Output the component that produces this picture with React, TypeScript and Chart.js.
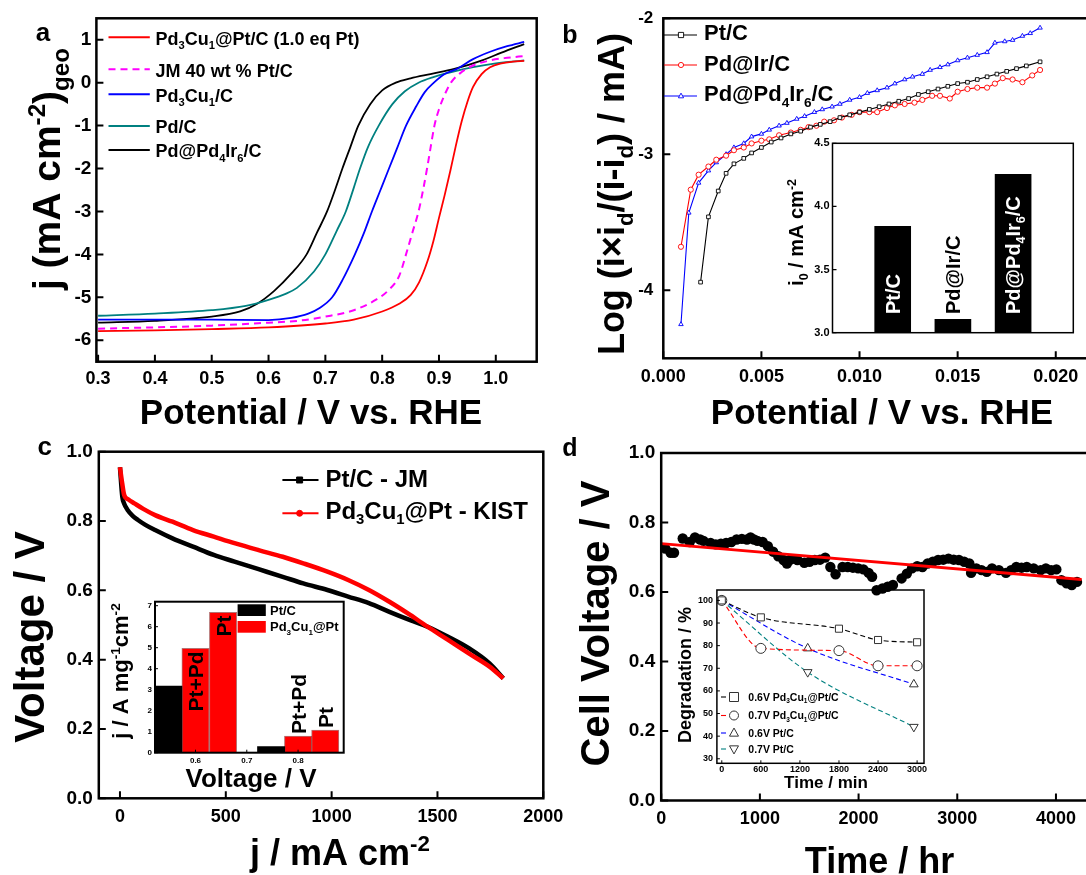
import React, { useEffect, useRef } from 'react';
import { Chart, registerables } from 'chart.js';

Chart.register(...registerables);

const FONT = "'Liberation Sans', Arial, Helvetica, sans-serif";

// ---------------- Panel a : ORR polarization ----------------
const A_X_TICKS = [0.3, 0.4, 0.5, 0.6, 0.7, 0.8, 0.9, 1.0];
const A_Y_TICKS = [-6, -5, -4, -3, -2, -1, 0, 1];
const A_RED_X = [0.30, 0.40, 0.50, 0.60, 0.70, 0.75, 0.80, 0.83, 0.85, 0.865, 0.88, 0.89, 0.90, 0.91, 0.92, 0.93, 0.94, 0.95, 0.96, 0.975, 0.99, 1.01, 1.03, 1.05];
const A_RED_Y = [-5.79, -5.77, -5.74, -5.70, -5.61, -5.52, -5.33, -5.15, -4.95, -4.65, -4.15, -3.70, -3.15, -2.62, -2.05, -1.45, -0.90, -0.45, -0.10, 0.20, 0.36, 0.45, 0.49, 0.51];
const A_MAG_X = [0.30, 0.40, 0.50, 0.60, 0.65, 0.70, 0.75, 0.79, 0.81, 0.83, 0.842, 0.853, 0.864, 0.872, 0.879, 0.886, 0.892, 0.90, 0.91, 0.921, 0.94, 0.96, 0.99, 1.02, 1.05];
const A_MAG_Y = [-5.73, -5.70, -5.66, -5.59, -5.55, -5.45, -5.30, -5.05, -4.85, -4.50, -4.00, -3.50, -3.00, -2.50, -2.00, -1.45, -1.00, -0.62, -0.28, 0.00, 0.25, 0.40, 0.52, 0.58, 0.62];
const A_BLUE_X = [0.30, 0.40, 0.50, 0.60, 0.64, 0.67, 0.69, 0.712, 0.73, 0.752, 0.768, 0.782, 0.797, 0.812, 0.827, 0.842, 0.86, 0.875, 0.891, 0.91, 0.933, 0.96, 0.99, 1.02, 1.05];
const A_BLUE_Y = [-5.52, -5.52, -5.52, -5.53, -5.48, -5.38, -5.25, -5.00, -4.60, -4.00, -3.50, -3.00, -2.50, -2.00, -1.50, -1.00, -0.55, -0.22, 0.00, 0.20, 0.33, 0.55, 0.72, 0.85, 0.95];
const A_TEAL_X = [0.30, 0.40, 0.50, 0.56, 0.60, 0.63, 0.65, 0.68, 0.70, 0.72, 0.736, 0.75, 0.761, 0.775, 0.794, 0.818, 0.84, 0.864, 0.89, 0.92, 0.96, 1.00, 1.05];
const A_TEAL_Y = [-5.43, -5.38, -5.30, -5.20, -5.06, -4.92, -4.78, -4.40, -4.00, -3.45, -3.00, -2.45, -2.00, -1.50, -1.00, -0.50, -0.20, 0.00, 0.13, 0.24, 0.36, 0.45, 0.52];
const A_BLK_X = [0.30, 0.40, 0.50, 0.55, 0.58, 0.61, 0.64, 0.667, 0.685, 0.703, 0.717, 0.73, 0.744, 0.758, 0.779, 0.80, 0.824, 0.85, 0.885, 0.927, 0.976, 1.01, 1.05];
const A_BLK_Y = [-5.59, -5.55, -5.45, -5.33, -5.15, -4.85, -4.45, -4.00, -3.50, -3.00, -2.50, -2.00, -1.50, -1.00, -0.50, -0.18, 0.00, 0.10, 0.20, 0.32, 0.52, 0.70, 0.90];
const A_LABELS = ['Pd_{3}Cu_{1}@Pt/C (1.0 eq Pt)', 'JM 40 wt % Pt/C', 'Pd_{3}Cu_{1}/C', 'Pd/C', 'Pd@Pd_{4}Ir_{6}/C'];

// ---------------- Panel b : Tafel-type plot ----------------
const B_X_TICKS = [0.0, 0.005, 0.01, 0.015, 0.02];
const B_Y_TICKS = [-4, -3, -2];
const B_PT_X = [0.0019, 0.0023, 0.0028, 0.0032, 0.0036, 0.0041, 0.0045, 0.0050, 0.0055, 0.0060, 0.0065, 0.0070, 0.0075, 0.0080, 0.0085, 0.0090, 0.0095, 0.0100, 0.0105, 0.0110, 0.0115, 0.0120, 0.0125, 0.0130, 0.0135, 0.0140, 0.0145, 0.0150, 0.0155, 0.0160, 0.0165, 0.0170, 0.0175, 0.0180, 0.0185, 0.0192];
const B_PT_Y = [-3.94, -3.46, -3.27, -3.14, -3.07, -3.03, -2.99, -2.95, -2.91, -2.88, -2.85, -2.83, -2.80, -2.78, -2.76, -2.73, -2.71, -2.69, -2.67, -2.65, -2.63, -2.61, -2.59, -2.56, -2.54, -2.52, -2.50, -2.48, -2.47, -2.45, -2.43, -2.41, -2.39, -2.37, -2.35, -2.32];
const B_IR_X = [0.0009, 0.0014, 0.0018, 0.0023, 0.0027, 0.0032, 0.0036, 0.0041, 0.0045, 0.0050, 0.0054, 0.0059, 0.0065, 0.0070, 0.0074, 0.0078, 0.0082, 0.0087, 0.0091, 0.0096, 0.0100, 0.0105, 0.0109, 0.0114, 0.0118, 0.0123, 0.0128, 0.0132, 0.0137, 0.0141, 0.0146, 0.0150, 0.0155, 0.0160, 0.0165, 0.0169, 0.0173, 0.0178, 0.0183, 0.0188, 0.0192];
const B_IR_Y = [-3.68, -3.26, -3.15, -3.09, -3.04, -3.01, -2.97, -2.95, -2.92, -2.90, -2.89, -2.86, -2.84, -2.82, -2.80, -2.79, -2.76, -2.75, -2.73, -2.71, -2.69, -2.69, -2.69, -2.66, -2.64, -2.63, -2.62, -2.60, -2.57, -2.57, -2.59, -2.54, -2.52, -2.51, -2.51, -2.48, -2.44, -2.45, -2.47, -2.42, -2.38];
const B_PDIR_X = [0.0009, 0.0013, 0.0018, 0.0023, 0.0027, 0.0032, 0.0036, 0.0041, 0.0045, 0.0050, 0.0054, 0.0059, 0.0063, 0.0068, 0.0072, 0.0077, 0.0081, 0.0086, 0.0090, 0.0095, 0.0100, 0.0104, 0.0109, 0.0114, 0.0118, 0.0123, 0.0127, 0.0132, 0.0136, 0.0141, 0.0145, 0.0150, 0.0155, 0.0160, 0.0165, 0.0169, 0.0174, 0.0178, 0.0183, 0.0187, 0.0192];
const B_PDIR_Y = [-4.25, -3.43, -3.21, -3.12, -3.06, -3.00, -2.95, -2.92, -2.87, -2.85, -2.82, -2.79, -2.77, -2.74, -2.72, -2.69, -2.67, -2.65, -2.63, -2.60, -2.58, -2.55, -2.53, -2.51, -2.48, -2.45, -2.43, -2.41, -2.38, -2.36, -2.34, -2.31, -2.29, -2.27, -2.25, -2.18, -2.17, -2.16, -2.13, -2.11, -2.07];
const B_LABELS = ['Pt/C', 'Pd@Ir/C', 'Pd@Pd_{4}Ir_{6}/C'];
// inset of b
const BI_CATS = ['Pt/C', 'Pd@Ir/C', 'Pd@Pd_{4}Ir_{6}/C'];
const BI_POS = [1, 2, 3];
const BI_VALUES = [3.843, 3.106, 4.254];
const BI_Y_TICKS = [3.0, 3.5, 4.0, 4.5];

// ---------------- Panel c : fuel cell polarization ----------------
const C_X_TICKS = [0, 500, 1000, 1500, 2000];
const C_Y_TICKS = [0, 0.2, 0.4, 0.6, 0.8, 1.0];
const C_PT_X = [0, 11, 20, 36, 60, 85, 120, 166, 248, 345, 443, 541, 655, 769, 866, 980, 1078, 1176, 1273, 1371, 1453, 1550, 1648, 1746, 1811];
const C_PT_Y = [0.955, 0.87, 0.85, 0.832, 0.815, 0.803, 0.789, 0.774, 0.75, 0.726, 0.702, 0.683, 0.661, 0.639, 0.620, 0.601, 0.582, 0.563, 0.538, 0.514, 0.495, 0.466, 0.433, 0.389, 0.346];
const C_KIST_X = [0, 11, 20, 40, 68, 110, 166, 248, 345, 443, 541, 655, 769, 866, 980, 1078, 1176, 1273, 1371, 1453, 1550, 1648, 1746, 1811];
const C_KIST_Y = [0.955, 0.907, 0.875, 0.862, 0.851, 0.835, 0.817, 0.798, 0.774, 0.755, 0.736, 0.716, 0.697, 0.678, 0.654, 0.630, 0.601, 0.567, 0.529, 0.495, 0.457, 0.418, 0.380, 0.346];
const C_LABELS = ['Pt/C - JM', 'Pd_{3}Cu_{1}@Pt - KIST'];
// inset of c
const CI_X_TICKS = [0.6, 0.7, 0.8];
const CI_Y_TICKS = [0, 1, 2, 3, 4, 5, 6, 7];
const CI_PT_X = [0.547, 0.7475];
const CI_PT_Y = [3.17, 0.29];
const CI_PDCU_X = [0.6, 0.6537, 0.8, 0.853];
const CI_PDCU_Y = [4.97, 6.68, 0.79, 1.08];
const CI_PDCU_TAGS = ['Pt+Pd', 'Pt', 'Pt+Pd', 'Pt'];
const CI_LABELS = ['Pt/C', 'Pd_{3}Cu_{1}@Pt'];

// ---------------- Panel d : durability ----------------
const D_X_TICKS = [0, 1000, 2000, 3000, 4000];
const D_Y_TICKS = [0, 0.2, 0.4, 0.6, 0.8, 1.0];
const D_T = [42, 95, 130, 218, 289, 342, 394, 429, 500, 553, 605, 658, 711, 764, 817, 869, 905, 940, 975, 1028, 1081, 1134, 1186, 1239, 1274, 1310, 1380, 1450, 1503, 1556, 1609, 1662, 1714, 1767, 1837, 1890, 1943, 1996, 2049, 2102, 2137, 2182, 2242, 2295, 2348, 2436, 2489, 2541, 2594, 2647, 2700, 2753, 2806, 2858, 2911, 2964, 3017, 3070, 3122, 3140, 3193, 3246, 3299, 3352, 3422, 3493, 3546, 3598, 3651, 3704, 3774, 3845, 3898, 3951, 4004, 4055, 4108, 4160, 4213];
const D_V = [0.725, 0.713, 0.713, 0.754, 0.744, 0.757, 0.751, 0.747, 0.741, 0.737, 0.739, 0.741, 0.744, 0.751, 0.753, 0.751, 0.757, 0.751, 0.747, 0.744, 0.732, 0.716, 0.703, 0.692, 0.682, 0.693, 0.692, 0.684, 0.687, 0.692, 0.693, 0.699, 0.672, 0.651, 0.672, 0.672, 0.670, 0.668, 0.665, 0.655, 0.644, 0.605, 0.610, 0.615, 0.620, 0.639, 0.653, 0.668, 0.674, 0.672, 0.682, 0.687, 0.692, 0.693, 0.696, 0.693, 0.692, 0.687, 0.682, 0.655, 0.668, 0.663, 0.658, 0.668, 0.663, 0.655, 0.663, 0.672, 0.670, 0.672, 0.668, 0.663, 0.668, 0.663, 0.665, 0.634, 0.625, 0.620, 0.629];
const D_FIT_T = [0, 4260];
const D_FIT_V = [0.739, 0.636];
// inset of d
const DI_X_TICKS = [0, 600, 1200, 1800, 2400, 3000];
const DI_Y_TICKS = [30, 40, 50, 60, 70, 80, 90, 100];
const DI_T1 = [0, 600, 1800, 2400, 3000];
const DI_PDCU_06 = [100, 92.5, 87.5, 82.5, 81.5];
const DI_PDCU_07 = [100, 78.8, 77.8, 71.1, 71.1];
const DI_T2 = [0, 1320, 2950];
const DI_PT_06 = [100, 78.8, 62.9];
const DI_PT_07 = [100, 68.3, 44.1];
const DI_LABELS = ['0.6V Pd_{3}Cu_{1}@Pt/C', '0.7V Pd_{3}Cu_{1}@Pt/C', '0.6V Pt/C', '0.7V Pt/C'];

// ---------------- helpers ----------------
const pts = (xs: number[], ys: number[]) => xs.map((x, i) => ({ x, y: ys[i] }));

type Seg = { t: string; m: number };
function parseRich(s: string): Seg[] {
  const segs: Seg[] = [];
  let buf = '';
  let i = 0;
  while (i < s.length) {
    const c = s[i];
    if ((c === '_' || c === '^') && s[i + 1] === '{') {
      if (buf) { segs.push({ t: buf, m: 0 }); buf = ''; }
      const end = s.indexOf('}', i + 2);
      segs.push({ t: s.slice(i + 2, end), m: c === '^' ? 1 : -1 });
      i = end + 1;
    } else { buf += c; i++; }
  }
  if (buf) segs.push({ t: buf, m: 0 });
  return segs;
}

function drawRich(ctx: CanvasRenderingContext2D, text: string, x: number, y: number, size: number,
  align: 'left' | 'center' | 'right' = 'left', rot = 0, color = '#000', weight = 'bold') {
  const segs = parseRich(text);
  const small = size * 0.62;
  ctx.save();
  ctx.translate(x, y);
  if (rot) ctx.rotate(rot);
  ctx.fillStyle = color;
  ctx.textAlign = 'left';
  ctx.textBaseline = 'alphabetic';
  const ws = segs.map((sg) => { ctx.font = `${weight} ${sg.m ? small : size}px ${FONT}`; return ctx.measureText(sg.t).width; });
  const total = ws.reduce((a, b) => a + b, 0);
  let cx = align === 'center' ? -total / 2 : align === 'right' ? -total : 0;
  const base = size * 0.358;
  segs.forEach((sg, k) => {
    ctx.font = `${weight} ${sg.m ? small : size}px ${FONT}`;
    const dy = sg.m > 0 ? -size * 0.38 : sg.m < 0 ? size * 0.24 : 0;
    ctx.fillText(sg.t, cx, base + dy);
    cx += ws[k];
  });
  ctx.restore();
}

function drawMarker(ctx: CanvasRenderingContext2D, style: string, x: number, y: number, r: number, stroke: string, fill: string | null, lw = 1) {
  ctx.save();
  ctx.beginPath();
  if (style === 'rect') ctx.rect(x - r, y - r, 2 * r, 2 * r);
  else if (style === 'circle') ctx.arc(x, y, r, 0, Math.PI * 2);
  else if (style === 'triangle') { ctx.moveTo(x, y - r * 1.1); ctx.lineTo(x + r, y + r * 0.7); ctx.lineTo(x - r, y + r * 0.7); ctx.closePath(); }
  else if (style === 'triangleDown') { ctx.moveTo(x, y + r * 1.1); ctx.lineTo(x + r, y - r * 0.7); ctx.lineTo(x - r, y - r * 0.7); ctx.closePath(); }
  if (fill) { ctx.fillStyle = fill; ctx.fill(); }
  ctx.setLineDash([]);
  ctx.strokeStyle = stroke; ctx.lineWidth = lw; ctx.stroke();
  ctx.restore();
}

function frame(chart: any, xt: number[], yt: number[], len: number, lw: number, tlw: number) {
  const { ctx, chartArea: a } = chart;
  const sx = chart.scales.x;
  const sy = chart.scales.y;
  ctx.save();
  ctx.strokeStyle = '#000';
  ctx.setLineDash([]);
  ctx.lineWidth = tlw;
  ctx.beginPath();
  xt.forEach((v) => { const p = sx.getPixelForValue(v); ctx.moveTo(p, a.bottom); ctx.lineTo(p, a.bottom - len); });
  yt.forEach((v) => { const p = sy.getPixelForValue(v); ctx.moveTo(a.left, p); ctx.lineTo(a.left + len, p); });
  ctx.stroke();
  ctx.lineWidth = lw;
  ctx.strokeRect(a.left, a.top, a.right - a.left, a.bottom - a.top);
  ctx.restore();
}

type Box = { left: number; top: number; w: number; h: number; l: number; t: number; r: number; b: number };

function axis(min: number, max: number, ticks: number[], fmt: (v: number) => string, size: number, pad: number, fit: number, horiz: boolean, show = true) {
  return {
    type: 'linear', min, max,
    grid: { display: false, drawTicks: false },
    border: { display: false },
    ticks: {
      display: show, autoSkip: false, maxRotation: 0, minRotation: 0, padding: pad, color: '#000',
      font: { family: FONT, size, weight: 'bold' },
      callback: (v: any) => fmt(Number(v)),
    },
    afterBuildTicks: (s: any) => { s.ticks = ticks.map((v) => ({ value: v })); },
    afterFit: (s: any) => {
      if (horiz) s.height = fit; else s.width = fit;
      s.paddingTop = 0; s.paddingBottom = 0; s.paddingLeft = 0; s.paddingRight = 0;
    },
  };
}

function baseOptions(bx: Box, xAxis: any, yAxis: any) {
  return {
    responsive: false,
    animation: false,
    events: [],
    layout: { padding: { left: 0, top: bx.t - bx.top, right: bx.left + bx.w - bx.r, bottom: 0 } },
    plugins: { legend: { display: false }, tooltip: { enabled: false } },
    scales: { x: xAxis, y: yAxis },
  };
}

// ---------------- geometry (page px) ----------------
const BOX_A: Box = { left: 0, top: 0, w: 560, h: 437, l: 96.4, t: 18.3, r: 536.7, b: 361.7 };
const BOX_B: Box = { left: 560, top: 0, w: 540, h: 437, l: 663.3, t: 18.3, r: 1095, b: 358.3 };
const BOX_C: Box = { left: 0, top: 437, w: 570, h: 438, l: 98.8, t: 451.7, r: 543.3, b: 798.3 };
const BOX_D: Box = { left: 555, top: 437, w: 545, h: 438, l: 661.2, t: 453, r: 1090.5, b: 800.5 };
const BOX_BI: Box = { left: 770, top: 130, w: 315, h: 215, l: 832.5, t: 143.3, r: 1073.3, b: 332.7 };
const BOX_CI: Box = { left: 100, top: 585, w: 260, h: 212, l: 155, t: 601.7, r: 343.7, b: 752.7 };
const BOX_DI: Box = { left: 668, top: 582, w: 265, h: 212, l: 716.9, t: 590, r: 924, b: 763.3 };

const xFit = (bx: Box) => bx.top + bx.h - bx.b;
const yFit = (bx: Box) => bx.l - bx.left;
const ROT = -Math.PI / 2;

// ---------------- configs ----------------
function cfgA(): any {
  const bx = BOX_A;
  const series = [
    { xs: A_RED_X, ys: A_RED_Y, color: '#ff0000', dash: [] as number[] },
    { xs: A_MAG_X, ys: A_MAG_Y, color: '#ff00ff', dash: [7, 5] },
    { xs: A_BLUE_X, ys: A_BLUE_Y, color: '#0000ff', dash: [] },
    { xs: A_TEAL_X, ys: A_TEAL_Y, color: '#008080', dash: [] },
    { xs: A_BLK_X, ys: A_BLK_Y, color: '#000000', dash: [] },
  ];
  const legY = [37.3, 69.3, 94.3, 126, 150];
  return {
    type: 'scatter',
    data: {
      datasets: series.map((s) => ({
        data: pts(s.xs, s.ys), showLine: true, borderColor: s.color, backgroundColor: s.color,
        borderWidth: s.dash.length ? 2 : 1.8, borderDash: s.dash, pointRadius: 0, cubicInterpolationMode: 'monotone',
      })),
    },
    options: baseOptions(bx,
      axis(0.297, 1.072, A_X_TICKS, (v) => v.toFixed(1), 18, 7, xFit(bx), true),
      axis(-6.5, 1.5, A_Y_TICKS, (v) => String(v), 19, 5, yFit(bx), false)),
    plugins: [{
      id: 'decoA',
      afterDraw(chart: any) {
        const ctx = chart.ctx;
        frame(chart, A_X_TICKS, A_Y_TICKS, 7, 2.5, 2);
        series.forEach((s, i) => {
          ctx.save();
          ctx.strokeStyle = s.color; ctx.lineWidth = 2; ctx.setLineDash(s.dash);
          ctx.beginPath(); ctx.moveTo(108.5, legY[i]); ctx.lineTo(149.8, legY[i]); ctx.stroke();
          ctx.restore();
          drawRich(ctx, A_LABELS[i], 155.6, legY[i] + 1, 18);
        });
        drawRich(ctx, 'a', 43, 32, 26, 'center');
        drawRich(ctx, 'Potential / V vs. RHE', 311 - bx.left, 411 - bx.top, 35, 'center');
        drawRich(ctx, 'j (mA cm^{-2})_{geo}', 45.6 - bx.left, 169 - bx.top, 39, 'center', ROT);
      },
    }],
  };
}

function cfgB(): any {
  const bx = BOX_B;
  const series = [
    { xs: B_PT_X, ys: B_PT_Y, color: '#000000', style: 'rect' },
    { xs: B_IR_X, ys: B_IR_Y, color: '#ff0000', style: 'circle' },
    { xs: B_PDIR_X, ys: B_PDIR_Y, color: '#0000ff', style: 'triangle' },
  ];
  const lineY = [35, 65, 96];
  const textY = [32.5, 63, 93.5];
  return {
    type: 'scatter',
    data: {
      datasets: series.map((s) => ({
        data: pts(s.xs, s.ys), showLine: true, borderColor: s.color, borderWidth: 1.1,
        pointStyle: s.style, pointRadius: 2.6, pointBorderWidth: 0.9, pointBorderColor: s.color, pointBackgroundColor: '#ffffff',
      })),
    },
    options: baseOptions(bx,
      axis(0, 0.022, B_X_TICKS, (v) => v.toFixed(3), 18, 8, xFit(bx), true),
      axis(-4.5, -2, B_Y_TICKS, (v) => String(v), 17, 10, yFit(bx), false)),
    plugins: [{
      id: 'decoB',
      afterDraw(chart: any) {
        const ctx = chart.ctx;
        frame(chart, B_X_TICKS, B_Y_TICKS, 7, 2.5, 2);
        series.forEach((s, i) => {
          ctx.save();
          ctx.strokeStyle = s.color; ctx.lineWidth = 1.1;
          ctx.beginPath(); ctx.moveTo(104, lineY[i]); ctx.lineTo(137, lineY[i]); ctx.stroke();
          ctx.restore();
          drawMarker(ctx, s.style, 121, lineY[i], 2.6, s.color, '#ffffff', 0.9);
          drawRich(ctx, B_LABELS[i], 144, textY[i], 22);
        });
        drawRich(ctx, 'b', 570 - bx.left, 34 - bx.top, 25, 'center');
        drawRich(ctx, 'Potential / V vs. RHE', 882 - bx.left, 411 - bx.top, 35, 'center');
        drawRich(ctx, 'Log (i\u00d7i_{d}/(i-i_{d}) / mA)', 611 - bx.left, 194 - bx.top, 36, 'center', ROT);
      },
    }],
  };
}

function cfgBI(): any {
  const bx = BOX_BI;
  return {
    type: 'bar',
    data: {
      datasets: [{
        data: pts(BI_POS, BI_VALUES), backgroundColor: '#000000', barThickness: 36, borderWidth: 0,
      }],
    },
    options: baseOptions(bx,
      { ...axis(0, 4, [], (v) => '', 11, 0, xFit(bx), true, false), offset: false },
      axis(3, 4.5, BI_Y_TICKS, (v) => v.toFixed(1), 11, 3, yFit(bx), false)),
    plugins: [{
      id: 'decoBI',
      afterDraw(chart: any) {
        const ctx = chart.ctx;
        frame(chart, [], BI_Y_TICKS, 4, 1.5, 1.2);
        const meta = chart.getDatasetMeta(0);
        meta.data.forEach((el: any, i: number) => {
          const inside = BI_VALUES[i] > 3.5;
          drawRich(ctx, BI_CATS[i], el.x, 184, 20, 'left', ROT, inside ? '#ffffff' : '#000000');
        });
        drawRich(ctx, 'i_{0} / mA cm^{-2}', 796 - bx.left, 232.5 - bx.top, 20, 'center', ROT);
      },
    }],
  };
}

function cfgC(): any {
  const bx = BOX_C;
  const series = [
    { xs: C_PT_X, ys: C_PT_Y, color: '#000000', style: 'rect' },
    { xs: C_KIST_X, ys: C_KIST_Y, color: '#ff0000', style: 'circle' },
  ];
  const lineY = [43, 76.3];
  const textY = [41.3, 73];
  return {
    type: 'scatter',
    data: {
      datasets: series.slice().reverse().map((s) => ({
        data: pts(s.xs, s.ys), showLine: true, borderColor: s.color, borderWidth: 4.5,
        pointRadius: 0, cubicInterpolationMode: 'monotone',
      })),
    },
    options: baseOptions(bx,
      axis(-100, 2000, C_X_TICKS, (v) => String(v), 18, 8, xFit(bx), true),
      axis(0, 1, C_Y_TICKS, (v) => v.toFixed(1), 19, 6, yFit(bx), false)),
    plugins: [{
      id: 'decoC',
      afterDraw(chart: any) {
        const ctx = chart.ctx;
        frame(chart, C_X_TICKS, C_Y_TICKS, 7, 2.5, 2);
        series.forEach((s, i) => {
          ctx.save();
          ctx.strokeStyle = s.color; ctx.lineWidth = 2;
          ctx.beginPath(); ctx.moveTo(282.4, lineY[i]); ctx.lineTo(318.5, lineY[i]); ctx.stroke();
          ctx.restore();
          drawMarker(ctx, s.style, 299.6, lineY[i], 3, s.color, s.color, 1);
          drawRich(ctx, C_LABELS[i], 325.4, textY[i], 24);
        });
        drawRich(ctx, 'c', 44.8 - bx.left, 446 - bx.top, 26, 'center');
        drawRich(ctx, 'j / mA cm^{-2}', 340 - bx.left, 852 - bx.top, 36, 'center');
        drawRich(ctx, 'Voltage / V', 29.3 - bx.left, 637 - bx.top, 42, 'center', ROT);
      },
    }],
  };
}

function cfgCI(): any {
  const bx = BOX_CI;
  return {
    type: 'bar',
    data: {
      datasets: [
        { data: pts(CI_PT_X, CI_PT_Y), backgroundColor: '#000000', barThickness: 27.3, grouped: false, borderWidth: 0 },
        { data: pts(CI_PDCU_X, CI_PDCU_Y), backgroundColor: '#ff0000', barThickness: 27.3, grouped: false, borderWidth: 1, borderColor: 'rgba(120,0,0,0.55)' },
      ],
    },
    options: baseOptions(bx,
      { ...axis(0.521, 0.889, CI_X_TICKS, (v) => v.toFixed(1), 8, 3, xFit(bx), true), offset: false },
      axis(0, 7.19, CI_Y_TICKS, (v) => String(v), 8, 3, yFit(bx), false)),
    plugins: [{
      id: 'decoCI',
      afterDraw(chart: any) {
        const ctx = chart.ctx;
        frame(chart, CI_X_TICKS, CI_Y_TICKS, 3, 2, 1);
        const meta = chart.getDatasetMeta(1);
        meta.data.forEach((el: any, i: number) => {
          const inside = CI_PDCU_Y[i] > 3;
          if (inside) drawRich(ctx, CI_PDCU_TAGS[i], el.x, el.y + 3, 21, 'right', ROT);
          else drawRich(ctx, CI_PDCU_TAGS[i], el.x, el.y - 2, 21, 'left', ROT);
        });
        // legend
        const colors = ['#000000', '#ff0000'];
        const ly = [19.3, 36];
        colors.forEach((c, i) => {
          ctx.fillStyle = c;
          ctx.fillRect(137.6, ly[i], 28.2, 11.7);
          drawRich(ctx, CI_LABELS[i], 170, ly[i] + 5.8, 13);
        });
        drawRich(ctx, 'Voltage / V', 251 - bx.left, 778 - bx.top, 26, 'center');
        drawRich(ctx, 'j / A mg^{-1}cm^{-2}', 120.5 - bx.left, 671 - bx.top, 22, 'center', ROT);
      },
    }],
  };
}

function cfgD(): any {
  const bx = BOX_D;
  return {
    type: 'scatter',
    data: {
      datasets: [
        { data: pts(D_FIT_T, D_FIT_V), showLine: true, borderColor: '#ff0000', borderWidth: 2.8, pointRadius: 0 },
        { data: pts(D_T, D_V), showLine: false, pointRadius: 5.2, pointBackgroundColor: '#000000', pointBorderColor: '#000000', pointBorderWidth: 0 },
      ],
    },
    options: baseOptions(bx,
      axis(0, 4350, D_X_TICKS, (v) => String(v), 18, 8, xFit(bx), true),
      axis(0, 1, D_Y_TICKS, (v) => v.toFixed(1), 19, 6, yFit(bx), false)),
    plugins: [{
      id: 'decoD',
      afterDraw(chart: any) {
        const ctx = chart.ctx;
        frame(chart, D_X_TICKS, D_Y_TICKS, 7, 2.5, 2);
        drawRich(ctx, 'd', 570 - bx.left, 447 - bx.top, 25, 'center');
        drawRich(ctx, 'Time / hr', 879.5 - bx.left, 860 - bx.top, 36, 'center');
        drawRich(ctx, 'Cell Voltage / V', 595 - bx.left, 623.5 - bx.top, 40, 'center', ROT);
      },
    }],
  };
}

function cfgDI(): any {
  const bx = BOX_DI;
  const series = [
    { xs: DI_T1, ys: DI_PDCU_06, color: '#000000', style: 'rect', rot: 0 },
    { xs: DI_T1, ys: DI_PDCU_07, color: '#ff0000', style: 'circle', rot: 0 },
    { xs: DI_T2, ys: DI_PT_06, color: '#0000ff', style: 'triangle', rot: 0 },
    { xs: DI_T2, ys: DI_PT_07, color: '#008080', style: 'triangle', rot: 180 },
  ];
  const rowY = [115, 133.5, 151, 167];
  return {
    type: 'scatter',
    data: {
      datasets: series.map((s) => ({
        data: pts(s.xs, s.ys), showLine: true, borderColor: s.color, borderWidth: 1.1, borderDash: [5, 3],
        cubicInterpolationMode: 'monotone', pointStyle: s.style, pointRotation: s.rot, pointRadius: 5,
        pointBorderColor: '#333333', pointBackgroundColor: '#ffffff', pointBorderWidth: 1,
      })),
    },
    options: baseOptions(bx,
      axis(-75, 3106, DI_X_TICKS, (v) => String(v), 9, 1, xFit(bx), true),
      axis(28, 104.6, DI_Y_TICKS, (v) => String(v), 9, 4, yFit(bx), false)),
    plugins: [{
      id: 'decoDI',
      afterDraw(chart: any) {
        const ctx = chart.ctx;
        frame(chart, DI_X_TICKS, DI_Y_TICKS, 3, 1.5, 1);
        series.forEach((s, i) => {
          ctx.save();
          ctx.strokeStyle = s.color; ctx.lineWidth = 1.1; ctx.setLineDash([5, 3]);
          ctx.beginPath(); ctx.moveTo(53, rowY[i]); ctx.lineTo(61, rowY[i]); ctx.stroke();
          ctx.restore();
          drawMarker(ctx, s.rot ? 'triangleDown' : s.style, 66, rowY[i], 4.5, '#333333', '#ffffff', 1);
          drawRich(ctx, DI_LABELS[i], 80.3, rowY[i], 10.5);
        });
        drawRich(ctx, 'Time / min', 826 - bx.left, 782 - bx.top, 17, 'center');
        drawRich(ctx, 'Degradation / %', 685 - bx.left, 675 - bx.top, 18, 'center', ROT);
      },
    }],
  };
}

const PANELS: { box: Box; cfg: () => any }[] = [
  { box: BOX_A, cfg: cfgA },
  { box: BOX_B, cfg: cfgB },
  { box: BOX_C, cfg: cfgC },
  { box: BOX_D, cfg: cfgD },
  { box: BOX_BI, cfg: cfgBI },
  { box: BOX_CI, cfg: cfgCI },
  { box: BOX_DI, cfg: cfgDI },
];

export default function App() {
  const refs = useRef<(HTMLCanvasElement | null)[]>([]);
  useEffect(() => {
    const charts = PANELS.map((p, i) => new Chart(refs.current[i] as HTMLCanvasElement, p.cfg()));
    return () => charts.forEach((c) => c.destroy());
  }, []);
  return (
    <div style={{ position: 'absolute', left: 0, top: 0, width: 1086, height: 875, overflow: 'hidden', background: '#ffffff' }}>
      {PANELS.map((p, i) => (
        <canvas
          key={i}
          ref={(el) => { refs.current[i] = el; }}
          width={p.box.w}
          height={p.box.h}
          style={{ position: 'absolute', left: p.box.left, top: p.box.top, width: p.box.w, height: p.box.h }}
        />
      ))}
    </div>
  );
}
